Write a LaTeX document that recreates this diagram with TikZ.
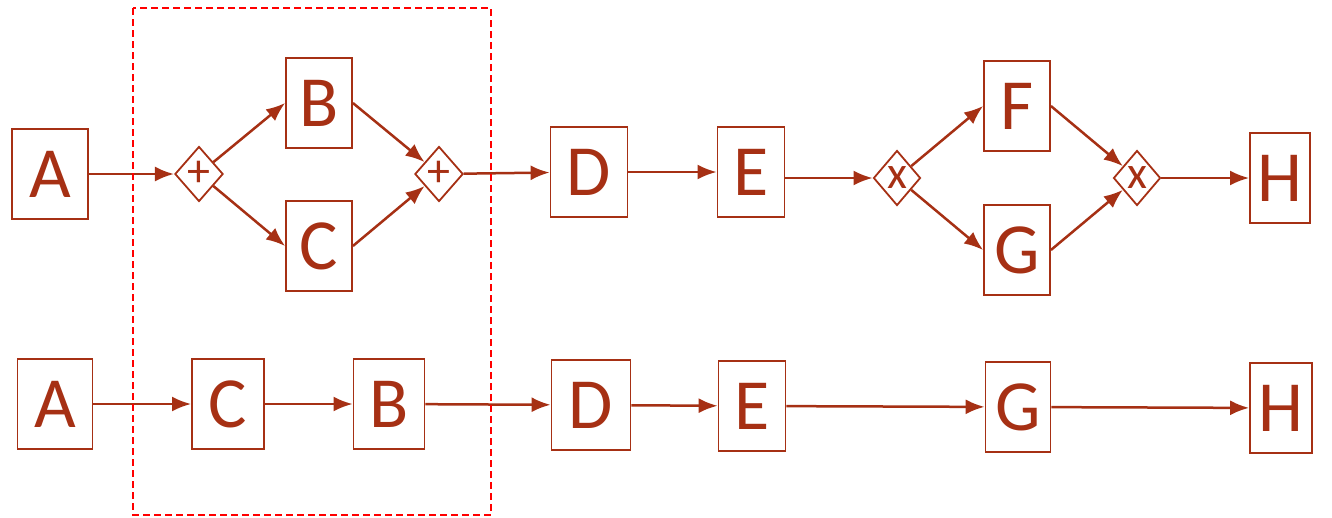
\documentclass[tikz,border=0pt]{standalone}
\usepackage{fontspec}
\setmainfont{Carlito}
\usepackage{xcolor}
\usepackage{tikz}
\usetikzlibrary{shapes.geometric, arrows.meta, positioning}
\definecolor{flowred}{RGB}{166,48,20}
\tikzset{
  taskbox/.style={
    draw=flowred, line width=1.8pt, text=flowred, inner sep=0pt,
    minimum width=66pt, minimum height=90pt,
    font=\fontsize{72}{72}\selectfont
  },
  gatebox/.style={
    diamond, draw=flowred, line width=1.8pt, text=flowred, inner sep=0pt,
    minimum width=47pt, minimum height=55pt,
    font=\fontsize{46}{46}\selectfont
  },
  flowarrow/.style={
    -{Latex[length=19pt, width=15pt]}, line width=2.5pt, draw=flowred
  },
  regionbox/.style={
    draw=red, line width=1.8pt, dash pattern=on 7pt off 4pt
  },
}

\begin{document}
\begin{tikzpicture}[x=1pt, y=-1pt]
  \useasboundingbox (0,0) rectangle (1332,517);

  % ---- Parallel / exclusive model ----
  \node[taskbox, minimum width=76pt] (topA) at (50,174) {A};
  \node[gatebox] (andsplit) at (199,174) {+};
  \node[taskbox] (topB) at (319,103) {B};
  \node[taskbox] (topC) at (319,246) {C};
  \node[gatebox] (andjoin) at (439,174) {+};
  \node[taskbox, minimum width=77pt] (topD) at (589,172) {D};
  \node[taskbox, minimum width=67pt] (topE) at (751,172) {E};
  \node[gatebox] (xorsplit) at (897,178) {x};
  \node[taskbox] (topF) at (1017,106) {F};
  \node[taskbox] (topG) at (1017,250) {G};
  \node[gatebox] (xorjoin) at (1137,178) {x};
  \node[taskbox, minimum width=60pt] (topH) at (1280,178) {H};

  \draw[flowarrow] (topA) -- (andsplit);
  \draw[flowarrow] (andsplit) -- (topB.west);
  \draw[flowarrow] (andsplit) -- (topC.west);
  \draw[flowarrow] (topB.east) -- (andjoin);
  \draw[flowarrow] (topC.east) -- (andjoin);
  \draw[flowarrow] (andjoin) -- (topD);
  \draw[flowarrow] (topD) -- (topE);
  \draw[flowarrow] (topE.east |- xorsplit) -- (xorsplit);
  \draw[flowarrow] (xorsplit) -- (topF.west);
  \draw[flowarrow] (xorsplit) -- (topG.west);
  \draw[flowarrow] (topF.east) -- (xorjoin);
  \draw[flowarrow] (topG.east) -- (xorjoin);
  \draw[flowarrow] (xorjoin) -- (topH);

  % ---- Sequential trace ----
  \node[taskbox, minimum width=75pt] (botA) at (55,404) {A};
  \node[taskbox, minimum width=72pt] (botC) at (228,404) {C};
  \node[taskbox, minimum width=71pt] (botB) at (389,404) {B};
  \node[taskbox, minimum width=79pt] (botD) at (591,405) {D};
  \node[taskbox, minimum width=67pt] (botE) at (752,406) {E};
  \node[taskbox, minimum width=65pt] (botG) at (1018,407) {G};
  \node[taskbox, minimum width=62pt] (botH) at (1281,408) {H};

  \draw[flowarrow] (botA) -- (botC);
  \draw[flowarrow] (botC) -- (botB);
  \draw[flowarrow] (botB) -- (botD);
  \draw[flowarrow] (botD) -- (botE);
  \draw[flowarrow] (botE) -- (botG);
  \draw[flowarrow] (botG) -- (botH);

  % highlighted region
  \draw[regionbox] (133,8) rectangle (491,515);
\end{tikzpicture}
\end{document}
